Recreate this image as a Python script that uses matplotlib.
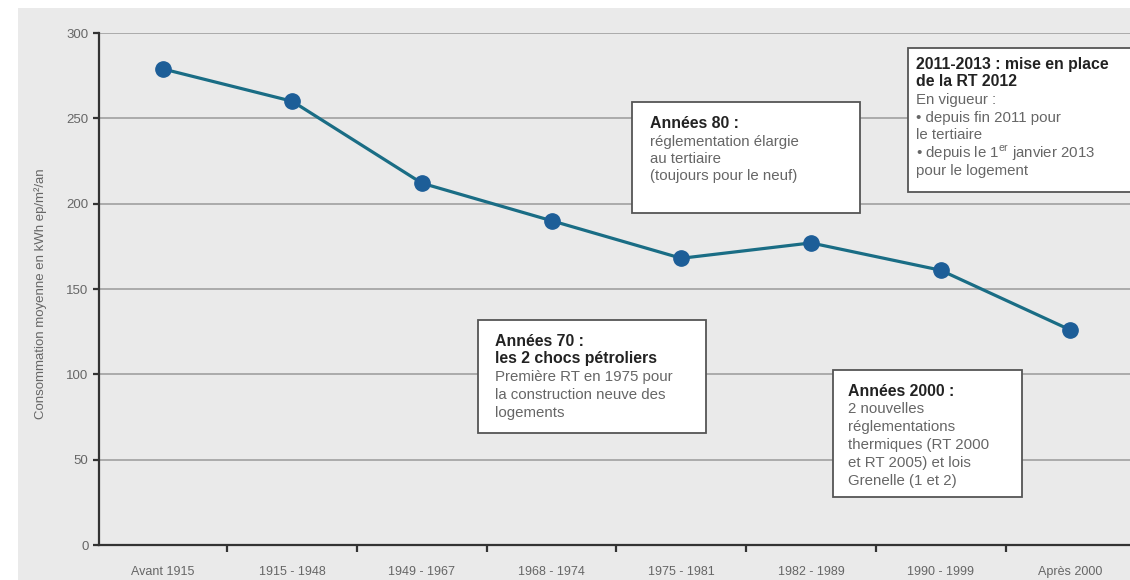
import matplotlib.pyplot as plt
from matplotlib.patches import Rectangle

plt.rcParams['font.family'] = ['Liberation Sans', 'DejaVu Sans']
plt.rcParams['mathtext.fontset'] = 'custom'
plt.rcParams['mathtext.rm'] = 'Liberation Sans'

periodes = ['Avant 1915', '1915 - 1948', '1949 - 1967', '1968 - 1974',
            '1975 - 1981', '1982 - 1989', '1990 - 1999', 'Après 2000']
conso = [279, 260, 212, 190, 168, 177, 161, 126]
yticks = [0, 50, 100, 150, 200, 250, 300]

W, H = 1130, 580
fig = plt.figure(figsize=(W / 100, H / 100), dpi=100, facecolor='white')

# light grey panel behind everything
fig.patches.append(Rectangle((18 / W, 0), 1, 1 - 8 / H, transform=fig.transFigure,
                             facecolor='#eaeaea', edgecolor='none', zorder=-10))

ax = fig.add_axes([99 / W, 35 / H, 1 - 99 / W, (545 - 33) / H])
ax.set_facecolor('none')

x = list(range(len(periodes)))
ax.plot(x, conso, color='#1a6d85', lw=2.3, zorder=3)
ax.plot(x, conso, 'o', color='#1d5e98', ms=11, zorder=4)

ax.set_xlim(-0.49, 7.46)
ax.set_ylim(0, 300)

for s in ['top', 'right']:
    ax.spines[s].set_visible(False)
for s in ['left', 'bottom']:
    ax.spines[s].set_color('#333333')
    ax.spines[s].set_linewidth(1.6)

ax.set_yticks(yticks)
ax.yaxis.grid(True, color='#a6a6a6', lw=1.3)
ax.set_axisbelow(True)
ax.tick_params(axis='y', direction='out', length=4.5, width=1.6, color='#333333',
               labelsize=9.5, labelcolor='#666666', pad=3)

# boundaries carry the tick marks, centres carry the labels
ax.set_xticks([i + 0.5 for i in range(len(periodes) - 1)])
ax.set_xticklabels([])
ax.set_xticks(x, minor=True)
ax.set_xticklabels(periodes, minor=True)
ax.tick_params(axis='x', which='major', direction='out', length=5, width=1.6,
               color='#333333')
ax.tick_params(axis='x', which='minor', length=0, labelsize=9,
               labelcolor='#666666', pad=15)

ax.set_ylabel('Consommation moyenne en kWh ep/m²/an', fontsize=9.5, color='#666666')
ax.yaxis.set_label_coords(-0.05, 0.49)


def note(x0, y0, x1, y1, tx, lines):
    """Framed comment box; coordinates in pixels from the top-left corner."""
    fig.patches.append(Rectangle((x0 / W, 1 - y1 / H), (x1 - x0) / W, (y1 - y0) / H,
                                 transform=fig.transFigure, facecolor='white',
                                 edgecolor='#555555', lw=1.3, zorder=5))
    for ty, txt, bold in lines:
        fig.text(tx / W, 1 - ty / H, txt, ha='left', va='center', zorder=6,
                 fontsize=11.4 if bold else 10.8,
                 fontweight='bold' if bold else 'normal',
                 color='#222222' if bold else '#666666')


note(632, 102, 860, 213, 650, [
    (124, 'Années 80 :', True),
    (142, 'réglementation élargie', False),
    (159, 'au tertiaire', False),
    (176, '(toujours pour le neuf)', False),
])

note(908, 48, 1140, 192, 916, [
    (64, '2011-2013 : mise en place', True),
    (82, 'de la RT 2012', True),
    (100, 'En vigueur :', False),
    (118, '• depuis fin 2011 pour', False),
    (135, 'le tertiaire', False),
    (153, '• depuis le 1$^{\\mathrm{er}}$ janvier 2013', False),
    (171, 'pour le logement', False),
])

note(478, 320, 706, 433, 495, [
    (341, 'Années 70 :', True),
    (359, 'les 2 chocs pétroliers', True),
    (377, 'Première RT en 1975 pour', False),
    (395, 'la construction neuve des', False),
    (413, 'logements', False),
])

note(833, 370, 1022, 497, 848, [
    (391, 'Années 2000 :', True),
    (409, '2 nouvelles', False),
    (427, 'réglementations', False),
    (445, 'thermiques (RT 2000', False),
    (463, 'et RT 2005) et lois', False),
    (481, 'Grenelle (1 et 2)', False),
])

fig.savefig('out.png', dpi=100, facecolor='white')
